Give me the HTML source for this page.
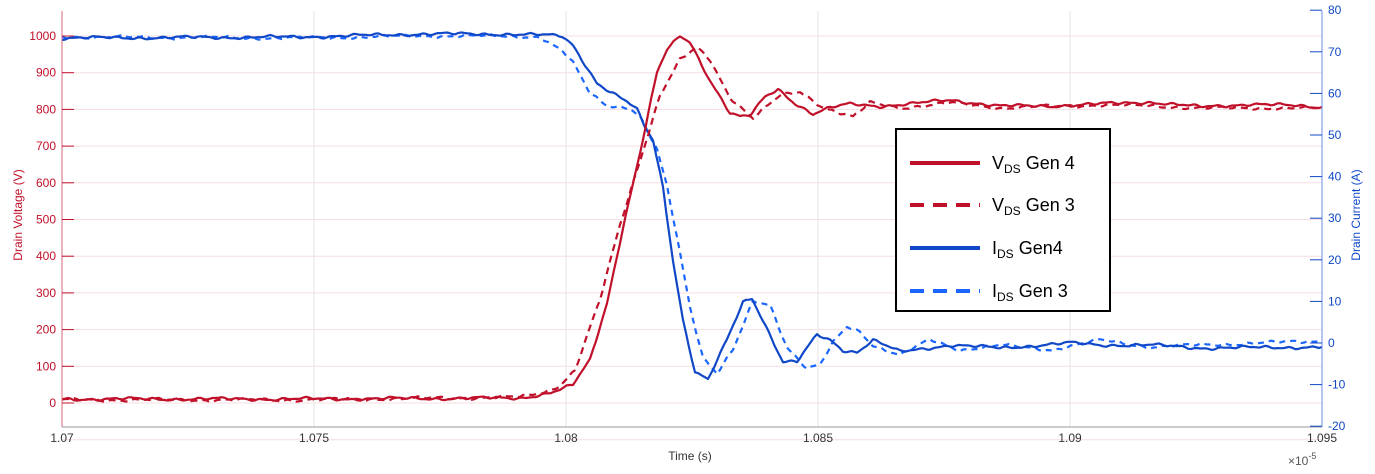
<!DOCTYPE html>
<html><head><meta charset="utf-8"><style>
html,body{margin:0;padding:0;background:#fff;}
svg{display:block;font-family:"Liberation Sans",Arial,sans-serif;}
</style></head><body>
<svg id="s" width="1375" height="474" viewBox="0 0 1375 474" xmlns="http://www.w3.org/2000/svg">
<rect width="1375" height="474" fill="#fff"/>
<g id="grid"></g>
<g id="series" fill="none" stroke-width="2.2" stroke-linejoin="round"></g>
<line x1="62" y1="11" x2="62" y2="427" stroke="#d46a7a" stroke-width="1"/>
<line x1="1322" y1="11" x2="1322" y2="427" stroke="#6a8ee6" stroke-width="1"/>
<line x1="62" y1="427" x2="1322" y2="427" stroke="#999" stroke-width="1"/>
<g id="ticks" font-size="12"></g>
<text x="22" y="215" font-size="12" fill="#c0102a" text-anchor="middle" transform="rotate(-90 22 215)">Drain Voltage (V)</text>
<text x="1360" y="215" font-size="12" fill="#1048c8" text-anchor="middle" transform="rotate(-90 1360 215)">Drain Current (A)</text>
<text x="690" y="460" font-size="12" fill="#333" text-anchor="middle">Time (s)</text>
<text x="1288" y="465" font-size="12" fill="#555">×10<tspan dy="-6" font-size="9">-5</tspan></text>
<rect x="896" y="129" width="214" height="182" fill="#fff" stroke="#000" stroke-width="2"/>
<line x1="910" y1="163" x2="980" y2="163" stroke="#c0102a" stroke-width="4"/>
<line x1="910" y1="205" x2="980" y2="205" stroke="#c0102a" stroke-width="4" stroke-dasharray="14,9"/>
<line x1="910" y1="248" x2="980" y2="248" stroke="#1048c8" stroke-width="4"/>
<line x1="910" y1="291" x2="980" y2="291" stroke="#1a66ff" stroke-width="4" stroke-dasharray="14,9"/>
<g font-size="18" fill="#000">
<text x="992" y="169">V<tspan font-size="12" dy="4">DS</tspan><tspan dy="-4"> Gen 4</tspan></text>
<text x="992" y="211">V<tspan font-size="12" dy="4">DS</tspan><tspan dy="-4"> Gen 3</tspan></text>
<text x="992" y="254">I<tspan font-size="12" dy="4">DS</tspan><tspan dy="-4"> Gen4</tspan></text>
<text x="992" y="297">I<tspan font-size="12" dy="4">DS</tspan><tspan dy="-4"> Gen 3</tspan></text>
</g>
</svg>
<script>
var NS="http://www.w3.org/2000/svg";
function el(p,t,a,txt){var e=document.createElementNS(NS,t);for(var k in a)e.setAttribute(k,a[k]);if(txt!==undefined)e.textContent=txt;document.getElementById(p).appendChild(e);return e;}
for(var v=0;v<=1000;v+=100){var y=403-v*0.367;el("grid","line",{x1:62,x2:1322,y1:y,y2:y,stroke:"#f6dde2","stroke-width":1});
el("ticks","text",{x:56,y:y+4,"text-anchor":"end",fill:"#c0102a"},String(v));el("ticks","line",{x1:62,x2:74,y1:y,y2:y,stroke:"#c0102a"});}
var yb=403+100*0.367;el("grid","line",{x1:62,x2:1322,y1:yb,y2:yb,stroke:"#f6dde2","stroke-width":1});
for(var i=0;i<=5;i++){var x=62+i*252;if(i>0&&i<5)el("grid","line",{x1:x,x2:x,y1:11,y2:427,stroke:"#e6e6e6","stroke-width":1});
el("ticks","text",{x:x,y:442,"text-anchor":"middle",fill:"#333"},["1.07","1.075","1.08","1.085","1.09","1.095"][i]);}
for(var a=-20;a<=80;a+=10){var y=343-a*4.16;el("ticks","text",{x:1328,y:y+4,fill:"#1048c8"},String(a));el("ticks","line",{x1:1310,x2:1322,y1:y,y2:y,stroke:"#1048c8"});}
function path(pts,col,dash,seed){var d="",s=seed;
for(var i=0;i<pts.length-1;i++){var p=pts[i],q=pts[i+1];var n=Math.max(1,Math.round((q[0]-p[0])/3));
for(var j=0;j<n;j++){var t=j/n;var x=p[0]+(q[0]-p[0])*t;var y=p[1]+(q[1]-p[1])*t;
var w=0.8*Math.sin(x*0.29+s)+0.9*Math.sin(x*0.071+2*s)+0.5*Math.sin(x*0.53+3*s);y+=w;d+=(d?"L":"M")+x.toFixed(1)+","+y.toFixed(1);}}
var l=pts[pts.length-1];d+="L"+l[0]+","+l[1];
var a={d:d,stroke:col};if(dash)a["stroke-dasharray"]=dash;el("series","path",a);}
var vr=[[62,399],[300,399],[520,398],[545,394],[560,390],[573,385],[590,360],[607,303],[623,227],[640,153],[657,73],[667,50],[680,36],[690,42],[710,80],[730,113],[740,117],[750,116],[765,97],[778,89],[795,103],[813,114],[830,108],[850,104],[880,106],[910,104],[950,100],[1000,106],[1050,106],[1100,104],[1150,102],[1200,107],[1250,104],[1322,107]];
var vr3=[[62,400],[300,400],[520,397],[545,392],[560,385],[575,370],[600,300],[620,225],[640,160],[660,95],[680,60],[697,48],[710,60],[730,97],[753,118],[765,108],[780,96],[800,92],[823,107],[853,117],[870,103],[900,108],[950,103],[1000,108],[1100,105],[1150,106],[1200,108],[1250,108],[1322,108]];
var ib=[[62,38],[300,37],[420,34],[500,34],[540,35],[562,36],[573,45],[597,83],[610,92],[627,102],[637,110],[645,127],[653,140],[663,187],[673,260],[683,320],[695,372],[708,380],[727,340],[743,302],[752,298],[763,320],[783,362],[797,362],[817,335],[830,340],[843,350],[857,352],[873,340],[900,352],[950,345],[1000,348],[1070,343],[1100,345],[1150,345],[1200,348],[1322,347]];
var ib3=[[62,37],[300,38],[420,36],[500,36],[540,37],[563,52],[573,63],[590,93],[607,105],[630,108],[640,117],[657,150],[667,187],[677,237],[690,307],[703,357],[717,373],[733,350],[753,302],[770,305],[787,347],[807,368],[820,365],[833,343],[847,327],[860,332],[873,345],[900,355],[930,340],[960,350],[1000,345],[1050,350],[1100,340],[1150,347],[1200,345],[1322,341]];
path(ib3,"#1a66ff","6,5",1);path(ib,"#1048c8",null,2);
path(vr3,"#c0102a","7,5",3);path(vr,"#c0102a",null,4);
</script>
</body></html>
